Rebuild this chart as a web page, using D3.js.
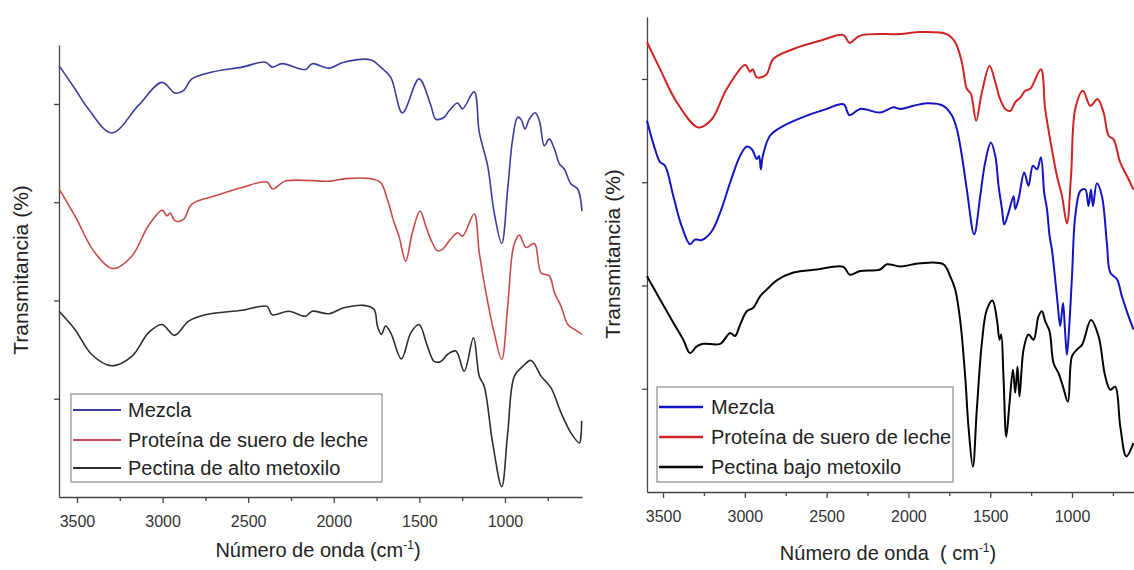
<!DOCTYPE html>
<html>
<head>
<meta charset="utf-8">
<script src="https://cdn.jsdelivr.net/npm/d3@7"></script>
<style>
  body { margin: 0; background: #fff; }
  svg { display: block; font-family: "Liberation Sans", Arial, sans-serif; }
  text { white-space: pre; }
</style>
</head>
<body>
<div id="container"></div>
<script>
/**
 * DATA  (wavenumber cm-1, transmittance in arbitrary offset units)
 * */
const legendLeft = ["Mezcla", "Proteína de suero de leche", "Pectina de alto metoxilo"];
const legendRight = ["Mezcla", "Proteína de suero de leche", "Pectina bajo metoxilo"];
const xTicks = [3500, 3000, 2500, 2000, 1500, 1000];
const yTicks = [20, 40, 60, 80];

const mezclaAlto = [[3605,87.8],[3512,83.1],[3434,79.0],[3297,74.1],[3141,79.7],[3004,84.4],[2926,82.2],[2878,82.7],[2829,85.1],[2711,86.5],[2536,87.5],[2399,88.5],[2360,87.5],[2302,88.2],[2165,87.0],[2126,88.2],[2029,87.3],[1941,88.5],[1785,89.0],[1726,87.5],[1667,85.4],[1599,78.2],[1502,85.1],[1433,79.7],[1404,76.9],[1355,77.3],[1326,78.6],[1277,80.2],[1248,79.0],[1180,82.5],[1150,74.2],[1101,67.4],[1063,57.9],[1019,51.6],[984,62.7],[955,72.9],[926,77.3],[906,76.9],[883,74.9],[858,76.9],[824,78.2],[799,76.6],[770,71.5],[741,72.9],[711,70.8],[682,67.8],[653,66.7],[614,63.7],[575,62.7],[550,58.2]];
const proteinaAlto = [[3605,62.7],[3512,57.2],[3395,49.7],[3287,46.5],[3180,49.0],[3083,55.2],[3001,58.4],[2975,57.2],[2956,57.8],[2926,56.2],[2878,56.5],[2829,59.6],[2692,61.3],[2536,63.0],[2390,64.1],[2357,62.7],[2282,64.3],[2019,64.3],[1931,64.8],[1785,64.8],[1726,64.0],[1687,60.6],[1648,55.9],[1619,53.1],[1580,48.0],[1541,53.8],[1496,58.2],[1463,55.2],[1433,52.4],[1394,50.1],[1365,50.4],[1326,52.1],[1277,53.8],[1248,53.1],[1180,57.6],[1150,49.7],[1111,41.6],[1063,33.4],[1019,28.0],[984,38.8],[949,51.1],[916,53.3],[877,50.8],[828,51.6],[789,45.6],[741,45.0],[711,41.6],[672,38.8],[633,35.1],[594,34.1],[550,33.1]];
const pectinaAlto = [[3605,37.8],[3512,34.1],[3414,29.0],[3297,26.7],[3180,28.6],[3083,33.4],[3004,35.1],[2930,32.9],[2848,35.8],[2751,37.1],[2536,38.0],[2390,38.8],[2360,37.1],[2263,37.8],[2165,36.8],[2126,37.8],[2029,37.3],[1941,38.5],[1824,39.0],[1765,38.2],[1745,34.8],[1722,33.1],[1697,34.8],[1667,33.4],[1605,28.1],[1550,33.4],[1502,35.1],[1453,30.7],[1414,27.6],[1375,27.6],[1336,29.0],[1287,29.7],[1238,25.6],[1184,32.4],[1150,24.6],[1121,22.5],[1072,11.0],[1019,2.1],[984,13.0],[945,24.6],[896,26.6],[848,27.8],[789,24.6],[731,22.2],[672,17.1],[614,13.0],[565,11.0],[556,12.5],[552,15.5]];

const mezclaBajo = [[3598,71.9],[3549,66.4],[3518,63.9],[3488,63.2],[3437,57.3],[3386,51.5],[3335,48.0],[3304,48.9],[3263,48.8],[3202,50.5],[3151,54.1],[3090,59.9],[3029,65.1],[2988,66.9],[2957,66.4],[2927,64.5],[2913,65.1],[2902,62.5],[2890,65.1],[2846,69.0],[2764,70.9],[2621,72.9],[2499,74.2],[2397,75.1],[2360,73.0],[2295,74.2],[2173,73.5],[2091,74.5],[2050,74.2],[1969,74.8],[1887,75.3],[1786,74.8],[1734,72.9],[1704,70.3],[1673,65.1],[1643,58.6],[1598,49.9],[1561,57.3],[1531,63.8],[1496,67.7],[1469,65.1],[1449,59.3],[1428,54.8],[1414,51.8],[1388,54.1],[1357,57.3],[1347,54.8],[1327,56.7],[1292,61.9],[1266,59.3],[1239,63.2],[1214,62.5],[1190,64.8],[1170,58.0],[1153,54.8],[1137,49.6],[1123,47.0],[1109,43.1],[1088,36.6],[1072,32.1],[1055,36.6],[1043,31.5],[1031,26.6],[1018,31.5],[1000,41.8],[980,53.5],[949,58.3],[919,58.6],[899,55.4],[884,58.6],[872,55.4],[848,59.8],[817,57.3],[787,48.3],[766,42.5],[725,41.2],[695,37.9],[654,34.0],[624,31.5]];
const proteinaBajo = [[3598,87.1],[3518,81.9],[3416,75.5],[3284,70.6],[3202,72.2],[3110,78.1],[2998,82.7],[2968,81.4],[2951,81.9],[2927,80.3],[2870,80.8],[2825,83.9],[2703,85.8],[2540,87.4],[2397,88.5],[2360,87.0],[2295,88.4],[2050,88.7],[1928,89.1],[1765,88.7],[1714,87.1],[1673,83.2],[1643,78.1],[1618,77.1],[1586,71.9],[1551,77.4],[1504,82.5],[1469,79.4],[1443,76.4],[1408,74.2],[1378,73.8],[1347,75.5],[1316,76.4],[1286,77.7],[1255,78.1],[1190,81.9],[1164,74.2],[1123,66.4],[1092,61.2],[1061,57.3],[1031,52.0],[1006,61.2],[980,74.2],[933,77.7],[888,74.8],[844,76.1],[807,73.5],[776,69.0],[746,68.3],[705,63.8],[664,61.2],[624,58.6]];
const pectinaBajo = [[3598,41.8],[3518,37.3],[3437,32.8],[3376,29.5],[3335,26.9],[3294,28.2],[3254,28.7],[3151,28.7],[3090,30.8],[3060,30.2],[3029,32.4],[2988,35.0],[2948,35.7],[2907,37.9],[2866,39.2],[2805,41.0],[2703,42.5],[2560,43.1],[2397,43.6],[2360,42.1],[2295,42.8],[2173,43.1],[2132,44.1],[2050,43.7],[1928,44.3],[1786,44.1],[1745,41.8],[1714,39.2],[1684,33.4],[1653,22.4],[1633,12.7],[1606,4.9],[1582,15.9],[1551,28.9],[1521,35.3],[1486,37.1],[1459,33.4],[1443,29.5],[1433,30.5],[1419,22.4],[1402,10.7],[1382,17.2],[1361,23.7],[1347,19.2],[1333,24.3],[1321,18.5],[1296,27.6],[1266,30.5],[1235,29.5],[1205,34.0],[1184,35.0],[1164,33.1],[1137,31.1],[1113,25.0],[1082,23.0],[1055,20.4],[1025,17.5],[1000,26.3],[969,27.6],[939,28.5],[884,33.3],[838,30.2],[797,22.4],[766,19.8],[736,20.4],[705,12.7],[668,6.9],[624,9.5]];

/**
 * CONSTANTS
 * */
const width = 1134, height = 570;

const panels = [
  {
    left: 59, right: 582, top: 45, bottom: 497,
    xDomain: [3605, 550],
    series: [mezclaAlto, proteinaAlto, pectinaAlto],
    names: legendLeft,
    colors: ["#3a3d9c", "#c94a4a", "#2e2e2e"],
    lineWidth: 1.6,
    legend: { x: 71, y: 394, w: 311, h: 88, rows: [16, 46, 74], lineLen: 48, textX: 57 },
    xTitle: ["Número de onda (cm", ")"], xTitleX: 318, xTitleY: 557,
    yTitleX: 28, yTitleY: 270
  },
  {
    left: 647, right: 1134, top: 17, bottom: 492,
    xDomain: [3598, 621],
    series: [mezclaBajo, proteinaBajo, pectinaBajo],
    names: legendRight,
    colors: ["#1414c4", "#d02424", "#050505"],
    lineWidth: 2,
    legend: { x: 657, y: 387, w: 296, h: 95, rows: [20, 50, 80], lineLen: 44, textX: 54 },
    xTitle: ["Número de onda  ( cm", ")"], xTitleX: 888, xTitleY: 560,
    yTitleX: 620, yTitleY: 254
  }
];

const svg = d3.select("#container").append("svg")
  .attr("width", width).attr("height", height);

panels.forEach(p => {
  const x = d3.scaleLinear().domain(p.xDomain).range([p.left, p.right]);
  const y = d3.scaleLinear().domain([0, 92]).range([p.bottom, p.top]);
  const g = svg.append("g");

  // x axis with minor ticks every 250
  const minor = d3.range(3750, 500, -250).filter(v => !xTicks.includes(v) && v <= p.xDomain[0] && v >= p.xDomain[1]);
  g.append("g")
    .attr("transform", `translate(0,${p.bottom})`)
    .call(d3.axisBottom(x).tickValues(minor).tickSize(4).tickFormat("").tickSizeOuter(0))
    .call(a => a.select(".domain").remove());
  g.append("g")
    .attr("transform", `translate(0,${p.bottom})`)
    .call(d3.axisBottom(x).tickValues(xTicks).tickSize(6).tickSizeOuter(0).tickPadding(13).tickFormat(d3.format("d")))
    .call(a => a.selectAll("text").attr("font-size", 16).attr("fill", "#333").attr("font-family", "Liberation Sans, Arial, sans-serif"));

  g.append("g")
    .attr("transform", `translate(${p.left},0)`)
    .call(d3.axisLeft(y).tickValues(yTicks).tickSize(5).tickSizeOuter(0).tickFormat(""));

  g.selectAll(".domain, .tick line").attr("stroke", "#444").attr("stroke-width", 1.3);

  // spectra
  const line = d3.line()
    .x(d => x(d[0])).y(d => y(d[1]))
    .curve(d3.curveCatmullRom.alpha(0.5));
  g.selectAll("path.spec")
    .data(p.series)
    .join("path")
    .attr("class", "spec")
    .attr("fill", "none")
    .attr("stroke", (d, i) => p.colors[i])
    .attr("stroke-width", p.lineWidth)
    .attr("stroke-linejoin", "round")
    .attr("d", line);

  // legend
  const L = p.legend;
  const lg = g.append("g").attr("transform", `translate(${L.x},${L.y})`);
  lg.append("rect").attr("width", L.w).attr("height", L.h)
    .attr("fill", "#fff").attr("stroke", "#8a8a8a").attr("stroke-width", 1.2);
  const row = lg.selectAll("g.row").data(p.names).join("g")
    .attr("class", "row")
    .attr("transform", (d, i) => `translate(0,${L.rows[i]})`);
  row.append("line").attr("x1", 2).attr("x2", 2 + L.lineLen)
    .attr("stroke", (d, i) => p.colors[i]).attr("stroke-width", p.lineWidth + 0.4);
  row.append("text").attr("x", L.textX).attr("dy", "0.35em")
    .attr("font-size", 20).attr("fill", "#222").text(d => d);

  // axis titles
  const xt = g.append("text").attr("x", p.xTitleX).attr("y", p.xTitleY)
    .attr("text-anchor", "middle").attr("font-size", 20).attr("fill", "#222");
  xt.append("tspan").text(p.xTitle[0]);
  xt.append("tspan").attr("dy", -8).attr("font-size", 12).text("-1");
  xt.append("tspan").attr("dy", 8).text(p.xTitle[1]);

  g.append("text")
    .attr("transform", `translate(${p.yTitleX},${p.yTitleY}) rotate(-90)`)
    .attr("text-anchor", "middle").attr("font-size", 21).attr("fill", "#222")
    .text("Transmitancia (%)");
});
</script>
</body>
</html>
